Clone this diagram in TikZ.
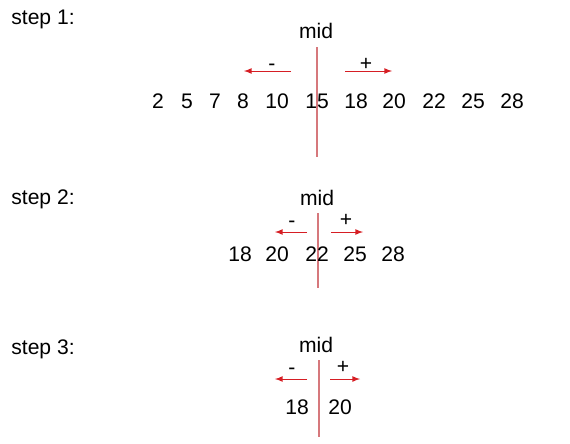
\documentclass[tikz,border=0pt]{standalone}
\usepackage{fontspec}
\setmainfont{Liberation Sans}
\definecolor{midred}{RGB}{214,120,124}
\definecolor{arrred}{RGB}{214,30,36}
\begin{document}
\begin{tikzpicture}[
    x=0.02cm, y=-0.02cm,
    every node/.style = {inner sep=0pt, text height=8.4pt, text depth=0pt,
                         font=\fontsize{12}{14}\selectfont},
    steplabel/.style = {anchor=west, text depth=2.4pt},
    midline/.style = {draw=midred, line width=0.65pt},
    dir/.style = {draw=arrred, line width=0.5pt, -latex}
    ]
    \useasboundingbox (0,0) rectangle (570,443);

    % step 1
    \node[steplabel] (s1) at (11,19) {step 1:};
    \node (mid1) at (316,31) {mid};
    \coordinate (top1) at (317,47);
    \coordinate (bot1) at (317,157);
    \draw[midline] (top1) -- (bot1);
    \coordinate (la1) at (291,71);
    \coordinate (lb1) at (244,71);
    \coordinate (ra1) at (345,71);
    \coordinate (rb1) at (392,71);
    \draw[dir] (la1) -- (lb1);
    \draw[dir] (ra1) -- (rb1);
    \node (minus1) at (272,63) {-};
    \node (plus1) at (366,63) {+};
    \node (a1) at (158,101) {2};
    \node (a2) at (187,101) {5};
    \node (a3) at (215,101) {7};
    \node (a4) at (243,101) {8};
    \node (a5) at (277,101) {10};
    \node (a6) at (317,101) {15};
    \node (a7) at (356,101) {18};
    \node (a8) at (394,101) {20};
    \node (a9) at (434,101) {22};
    \node (a10) at (473,101) {25};
    \node (a11) at (512,101) {28};

    % step 2
    \node[steplabel] (s2) at (11,199) {step 2:};
    \node (mid2) at (317,198) {mid};
    \coordinate (top2) at (318,213);
    \coordinate (bot2) at (318,288);
    \draw[midline] (top2) -- (bot2);
    \coordinate (la2) at (307,232);
    \coordinate (lb2) at (275,232);
    \coordinate (ra2) at (331,232);
    \coordinate (rb2) at (363,232);
    \draw[dir] (la2) -- (lb2);
    \draw[dir] (ra2) -- (rb2);
    \node (minus2) at (292,220) {-};
    \node (plus2) at (346,219) {+};
    \node (b1) at (240,254) {18};
    \node (b2) at (277,254) {20};
    \node (b3) at (317,254) {22};
    \node (b4) at (355,254) {25};
    \node (b5) at (393,254) {28};

    % step 3
    \node[steplabel] (s3) at (11,349) {step 3:};
    \node (mid3) at (316,345) {mid};
    \coordinate (top3) at (319,360);
    \coordinate (bot3) at (319,437);
    \draw[midline] (top3) -- (bot3);
    \coordinate (la3) at (307,379);
    \coordinate (lb3) at (275,379);
    \coordinate (ra3) at (330,379);
    \coordinate (rb3) at (360,379);
    \draw[dir] (la3) -- (lb3);
    \draw[dir] (ra3) -- (rb3);
    \node (minus3) at (292,367) {-};
    \node (plus3) at (343,366) {+};
    \node (c1) at (297,407) {18};
    \node (c2) at (340,407) {20};
\end{tikzpicture}
\end{document}
